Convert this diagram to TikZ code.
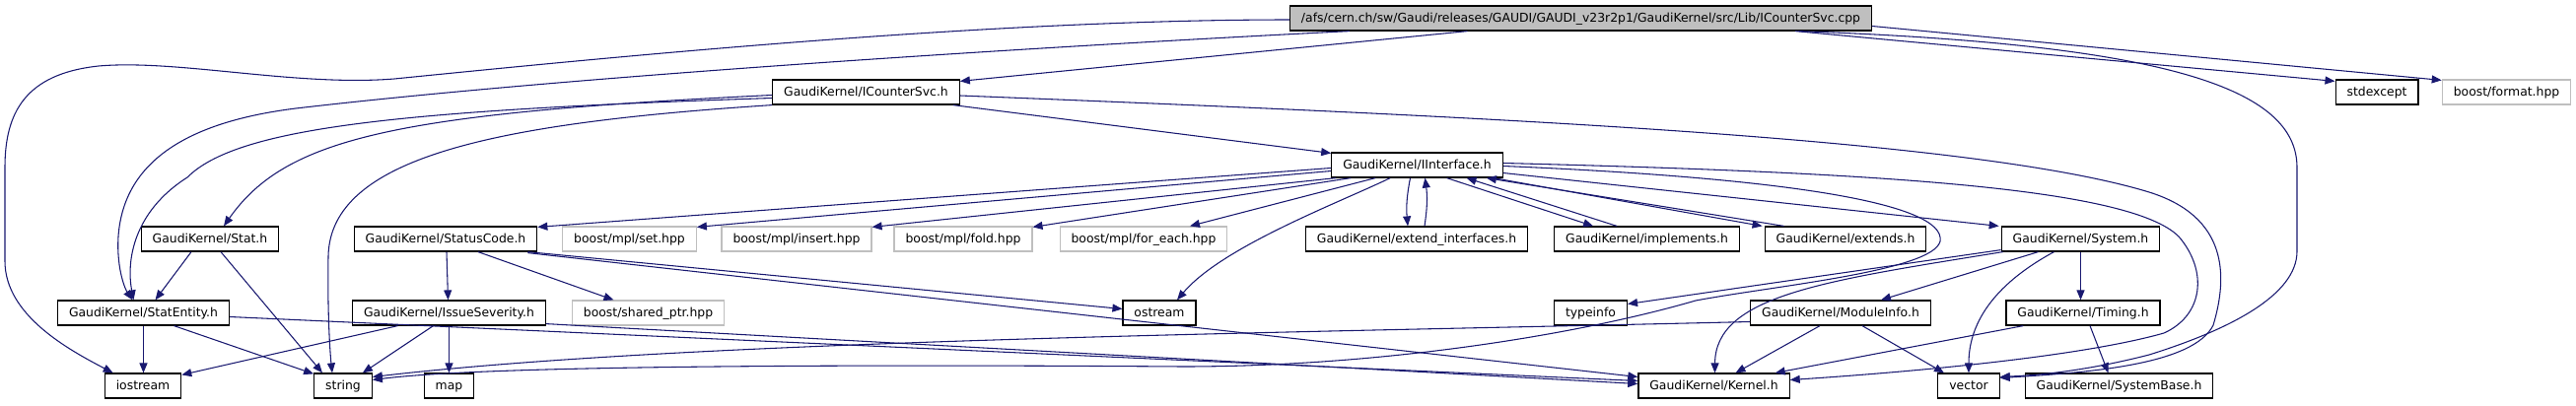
\documentclass[tikz,border=0pt]{standalone}
\usepackage{fontspec}
\setmainfont{DejaVu Sans}
\usetikzlibrary{calc,arrows.meta}
\definecolor{edgeblue}{HTML}{191970}
\definecolor{boxgray}{HTML}{BFBFBF}
\tikzset{
	incbox/.style={draw=black, line width=0.9pt, fill=white, font=\fontsize{9.3pt}{11pt}\selectfont, inner xsep=8.6pt, inner ysep=0pt, minimum height=18.75pt, text height=8.4pt, text depth=2pt},
	extbox/.style={incbox, draw=boxgray},
	topbox/.style={incbox, fill=boxgray},
	inc/.style={draw=edgeblue, line width=0.8pt, -{Triangle[length=7.5pt,width=6pt]}}
}

\begin{document}
\begin{tikzpicture}[x=0.75pt, y=-0.75pt]
				\useasboundingbox (0,0) rectangle (2613,411);
				
				\node[topbox] (root) at (1603.5,18.5) {/afs/cern.ch/sw/Gaudi/releases/GAUDI/GAUDI\_v23r2p1/GaudiKernel/src/Lib/ICounterSvc.cpp};
				
				\node[incbox] (icountersvc) at (878.5,93.5) {GaudiKernel/ICounterSvc.h};
				\node[incbox] (stdexcept) at (2411,93.5) {stdexcept};
				\node[extbox] (format) at (2542.5,93.5) {boost/format.hpp};
				
				\node[incbox] (iinterface) at (1437.5,167.5) {GaudiKernel/IInterface.h};
				
				\node[incbox] (stat) at (213,242.5) {GaudiKernel/Stat.h};
				\node[incbox] (statuscode) at (452,242.5) {GaudiKernel/StatusCode.h};
				\node[extbox] (mplset) at (638.5,242.5) {boost/mpl/set.hpp};
				\node[extbox] (mplinsert) at (808,242.5) {boost/mpl/insert.hpp};
				\node[extbox] (mplfold) at (977,242.5) {boost/mpl/fold.hpp};
				\node[extbox] (mplforeach) at (1160,242.5) {boost/mpl/for\_each.hpp};
				\node[incbox] (extendif) at (1437,242.5) {GaudiKernel/extend\_interfaces.h};
				\node[incbox] (implements) at (1670.5,242.5) {GaudiKernel/implements.h};
				\node[incbox] (extends) at (1872,242.5) {GaudiKernel/extends.h};
				\node[incbox] (system) at (2110.5,242.5) {GaudiKernel/System.h};
				
				\node[incbox] (statentity) at (145.5,317.5) {GaudiKernel/StatEntity.h};
				\node[incbox] (severity) at (455.5,317.5) {GaudiKernel/IssueSeverity.h};
				\node[extbox] (sharedptr) at (657.5,317.5) {boost/shared\_ptr.hpp};
				\node[incbox] (ostream) at (1176,317.5) {ostream};
				\node[incbox] (typeinfo) at (1613.5,317.5) {typeinfo};
				\node[incbox] (moduleinfo) at (1867,317.5) {GaudiKernel/ModuleInfo.h};
				\node[incbox] (timing) at (2113,317.5) {GaudiKernel/Timing.h};
				
				\node[incbox] (iostream) at (145,391.5) {iostream};
				\node[incbox] (string) at (348,391.5) {string};
				\node[incbox] (map) at (455.5,391.5) {map};
				\node[incbox] (kernel) at (1738.5,391.5) {GaudiKernel/Kernel.h};
				\node[incbox] (vector) at (1997,391.5) {vector};
				\node[incbox] (systembase) at (2149.5,391.5) {GaudiKernel/SystemBase.h};
				
				\draw[inc] ($(root.south)+(-115,0)$) -- ($(icountersvc.north east)+(0,2)$);
				\draw[inc] ($(root.west)+(0,1.5)$) .. controls (1000,20) and (620,58) .. (400,80) .. controls (300,88) and (180,60) .. (100,67) .. controls (25,75) and (5,115) .. (5,170) -- (5,265) .. controls (5,320) and (70,355) .. ($(iostream.north west)+(9,0)$);
				\draw[inc] ($(root.south west)+(61,0)$) .. controls (1100,45) and (600,75) .. (300,110) .. controls (180,125) and (125,170) .. (120,240) .. controls (118,275) and (128,295) .. ($(statentity.north)+(-11,0)$);
				\draw[inc] ($(root.south east)+(-78,0)$) -- ($(stdexcept.north west)+(0,2)$);
				\draw[inc] ($(root.east)+(0,8)$) -- ($(format.north west)+(0,1)$);
				\draw[inc] ($(root.south east)+(-75,0)$) .. controls (2200,45) and (2330,90) .. (2330,170) -- (2330,255) .. controls (2330,300) and (2260,335) .. (2180,360) .. controls (2110,378) and (2060,381) .. ($(vector.east)+(0,-9)$);
				
				\draw[inc] ($(icountersvc.south east)+(-7,0)$) -- ($(iinterface.north west)+(0,1)$);
				\draw[inc] ($(icountersvc.west)+(0,3)$) .. controls (400,115) and (290,140) .. ($(stat.north)+(14,0)$);
				\draw[inc] ($(icountersvc.west)+(0,6)$) .. controls (400,112) and (240,130) .. (190,180) .. controls (135,215) and (128,265) .. ($(statentity.north)+(-10,0)$);
				\draw[inc] (icountersvc.south west) .. controls (500,125) and (335,160) .. (333,260) .. controls (332,320) and (335,360) .. ($(string.north)+(-11,0)$);
				\draw[inc] ($(icountersvc.east)+(0,3.5)$) .. controls (1500,118) and (2000,140) .. (2180,195) .. controls (2260,220) and (2260,280) .. (2245,330) .. controls (2225,370) and (2120,378) .. ($(vector.east)+(0,-8)$);
				
				\draw[inc] ($(iinterface.west)+(0,3)$) -- ($(statuscode.north east)+(0,1)$);
				\draw[inc] ($(iinterface.west)+(0,6)$) -- ($(mplset.north east)+(0,1)$);
				\draw[inc] ($(iinterface.south west)+(5,0)$) -- ($(mplinsert.north east)+(0,1)$);
				\draw[inc] ($(iinterface.south west)+(20,0)$) -- ($(mplfold.north east)+(0,1)$);
				\draw[inc] ($(iinterface.south west)+(45,0)$) -- ($(mplforeach.north)+(47,0)$);
				\draw[inc] ($(iinterface.south west)+(60,0)$) .. controls (1360,205) and (1240,250) .. ($(ostream.north)+(18,0)$);
				\draw[inc] ($(iinterface.south)+(-7,0)$) to[bend right=8] ($(extendif.north)+(-9,0)$);
				\draw[inc] ($(extendif.north)+(8,0)$) to[bend right=8] ($(iinterface.south)+(8,0)$);
				\draw[inc] ($(iinterface.south)+(30,0)$) -- ($(implements.north west)+(40,0)$);
				\draw[inc] ($(implements.north west)+(64,0)$) -- ($(iinterface.south)+(50,0)$);
				\draw[inc] ($(iinterface.south east)+(-10,0)$) -- ($(extends.north west)+(-2,0)$);
				\draw[inc] ($(extends.north west)+(20,0)$) -- ($(iinterface.south east)+(-17,0)$);
				\draw[inc] ($(iinterface.east)+(0,8)$) -- ($(system.north west)+(-2,0)$);
				\draw[inc] ($(iinterface.east)+(0,-2)$) .. controls (1900,175) and (2160,190) .. (2210,240) .. controls (2240,275) and (2235,320) .. (2195,338) .. controls (2100,365) and (1900,380) .. ($(kernel.east)+(0,-6)$);
				\draw[inc] ($(iinterface.east)+(0,1)$) .. controls (1800,180) and (1975,205) .. (1968,245) .. controls (1960,275) and (1800,290) .. (1720,305) .. controls (1600,340) and (1400,372) .. (1200,372) .. controls (900,370) and (500,370) .. ($(string.east)+(0,-6)$);
				
				\draw[inc] ($(stat.south)+(-19,0)$) -- ($(statentity.north)+(12,0)$);
				\draw[inc] ($(stat.south)+(11,0)$) -- ($(string.north)+(-21,0)$);
				
				\draw[inc] ($(statuscode.south)+(1,0)$) -- ($(severity.north)+(-1,0)$);
				\draw[inc] ($(statuscode.south)+(33,0)$) -- ($(sharedptr.north)+(-35,0)$);
				\draw[inc] ($(statuscode.south east)+(-10,0)$) -- ($(ostream.west)+(0,-4)$);
				\draw[inc] ($(statuscode.south east)+(-10,1)$) -- ($(kernel.west)+(0,-9)$);
				
				\draw[inc] (statentity.south) -- (statentity.south |- iostream.north);
				\draw[inc] ($(statentity.south)+(31,0)$) -- ($(string.north west)+(0,1)$);
				\draw[inc] ($(statentity.east)+(0,4)$) -- ($(kernel.west)+(0,-5)$);
				
				\draw[inc] ($(severity.south)+(-52,0)$) -- ($(iostream.north east)+(0,2)$);
				\draw[inc] ($(severity.south)+(-16,0)$) -- ($(string.north east)+(-10,0)$);
				\draw[inc] (severity.south) -- (severity.south |- map.north);
				\draw[inc] ($(severity.south east)+(0,-2)$) -- ($(kernel.west)+(0,-2)$);
				
				\draw[inc] ($(system.south west)+(0,-2)$) -- ($(typeinfo.east)+(0,-9)$);
				\draw[inc] ($(system.south west)+(2,0)$) .. controls (1850,285) and (1740,300) .. ($(kernel.north)+(1,0)$);
				\draw[inc] ($(system.south)+(-43,0)$) -- ($(moduleinfo.north)+(41,0)$);
				\draw[inc] ($(system.south)+(-27,0)$) .. controls (2020,290) and (1997,330) .. (vector.north);
				\draw[inc] (system.south) -- (system.south |- timing.north);
				
				\draw[inc] ($(moduleinfo.west)+(0,9)$) .. controls (1300,338) and (700,345) .. ($(string.east)+(0,-9)$);
				\draw[inc] ($(moduleinfo.south)+(-21,0)$) -- ($(kernel.north)+(22,0)$);
				\draw[inc] ($(moduleinfo.south)+(22,0)$) -- ($(vector.north)+(-25,0)$);
				
				\draw[inc] ($(timing.south west)+(18,0)$) -- ($(kernel.north east)+(-15,0)$);
				\draw[inc] ($(timing.south)+(7,0)$) -- ($(systembase.north)+(-11,0)$);
			\end{tikzpicture}
\end{document}
